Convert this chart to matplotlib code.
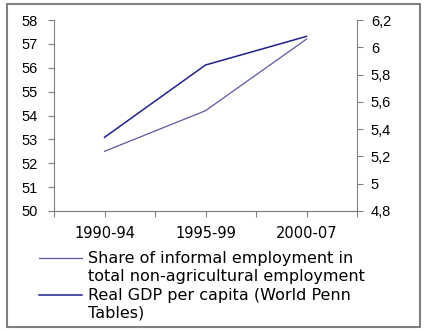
import matplotlib
matplotlib.use("Agg")
import matplotlib.pyplot as plt
from matplotlib.lines import Line2D
from matplotlib.patches import Rectangle
from matplotlib.ticker import FixedLocator, FuncFormatter

# Periods and the two series (left: share in %, right: log real GDP per capita)
periods = ["1990-94", "1995-99", "2000-07"]
informal_share = [52.5, 54.2, 57.2]
real_gdp = [5.34, 5.87, 6.08]

share_label = "Share of informal employment in\ntotal non-agricultural employment"
gdp_label = "Real GDP per capita (World Penn\nTables)"

share_color = "#5a5aa6"
gdp_color = "#20208c"
axis_gray = "#808080"

fig = plt.figure(figsize=(4.26, 3.31), dpi=100)
W, H = 426, 331

# chart frame
fig.add_artist(Rectangle((7 / W, 1 - 327 / H), 413 / W, 323 / H,
                         transform=fig.transFigure, fill=False,
                         edgecolor=axis_gray, linewidth=1.5))

ax = fig.add_axes([54 / W, 1 - 211 / H, 303 / W, 191 / H])
ax2 = ax.twinx()

x = list(range(len(periods)))
ax.plot(x, informal_share, color=share_color, linewidth=0.9)
ax2.plot(x, real_gdp, color=gdp_color, linewidth=1.1)

ax.set_xlim(-0.5, 2.5)
ax.set_ylim(50, 58)
ax.set_yticks(range(50, 59))
ax2.set_ylim(4.8, 6.2)
ax2.set_yticks([4.8 + 0.2 * i for i in range(8)])
ax2.yaxis.set_major_formatter(
    FuncFormatter(lambda v, p: ("%g" % round(v, 1)).replace(".", ",")))

ax.set_xticks(x)
ax.set_xticklabels(periods, fontfamily="DejaVu Sans", fontsize=10.5)
ax.xaxis.set_minor_locator(FixedLocator([-0.5, 0.5, 1.5, 2.5]))

for a in (ax, ax2):
    a.patch.set_visible(False)
    for s in a.spines.values():
        s.set_color(axis_gray)
    a.spines["top"].set_visible(False)
    a.tick_params(axis="both", which="both", color=axis_gray, length=4,
                  width=0.8)
ax.spines["right"].set_visible(False)
ax2.spines["left"].set_visible(False)
ax.tick_params(axis="x", pad=7)
ax.tick_params(axis="y", pad=8, labelsize=10.5)
ax2.tick_params(axis="y", pad=6, labelsize=10.5)
for lbl in ax.get_yticklabels() + ax2.get_yticklabels():
    lbl.set_fontfamily("Liberation Sans")

# legend below the plot, handle aligned to first text line
entries = [(share_label, share_color, 258, 0.9), (gdp_label, gdp_color, 295, 1.1)]
for text, color, ypix, lw in entries:
    yf = 1 - ypix / H
    fig.add_artist(Line2D([39 / W, 82 / W], [yf, yf], transform=fig.transFigure,
                          color=color, linewidth=lw))
    fig.text(88 / W, yf + 7 / H, text, fontfamily="DejaVu Sans", fontsize=11.5,
             va="top", ha="left", linespacing=1.25)

fig.savefig("out.png", dpi=100)
